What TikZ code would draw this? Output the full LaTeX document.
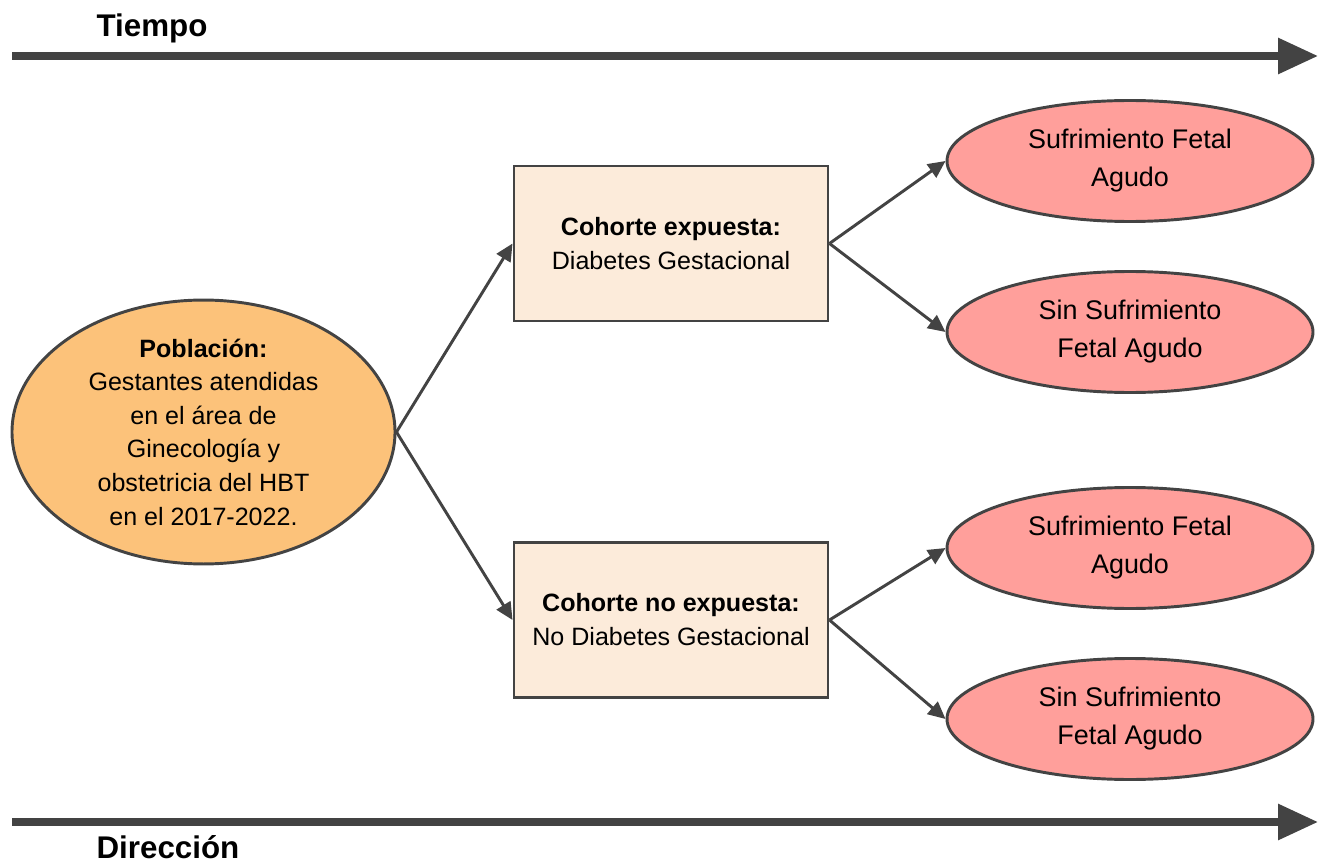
\documentclass[tikz,border=0pt]{standalone}
\usepackage{fontspec}
\setmainfont{Liberation Sans}
\usetikzlibrary{shapes.geometric,arrows.meta}
\definecolor{strokec}{HTML}{434343}
\definecolor{popfill}{HTML}{FCC27A}
\definecolor{boxfill}{HTML}{FCEBDA}
\definecolor{outfill}{HTML}{FF9F9B}
\tikzset{
  popnode/.style={ellipse, draw=strokec, line width=2.2pt, fill=popfill, inner sep=0pt,
    minimum width=287.25pt, minimum height=178.5pt, align=center,
    font=\fontsize{18.8}{25.2}\selectfont},
  cohort/.style={rectangle, draw=strokec, line width=2.2pt, fill=boxfill, inner sep=0pt,
    minimum width=235.5pt, minimum height=116.25pt, align=center,
    font=\fontsize{18.8}{25.5}\selectfont},
  outcome/.style={ellipse, draw=strokec, line width=2.2pt, fill=outfill, inner sep=0pt,
    minimum width=274.5pt, minimum height=90.75pt, align=center,
    font=\fontsize{20.2}{28.5}\selectfont},
  conn/.style={draw=strokec, line width=2.2pt, -{Triangle[length=13pt,width=12pt]}},
  timearrow/.style={draw=strokec, line width=5.4pt, -{Triangle[length=30pt,width=26pt]}},
  timelabel/.style={font=\fontsize{23.5}{28}\selectfont\bfseries, inner sep=0pt}
}
\begin{document}
\begin{tikzpicture}[x=0.75pt,y=-0.75pt]
\useasboundingbox (0,0) rectangle (1321,863);
% time arrows
\coordinate (t0) at (12,56);
\coordinate (t1) at (1318,56);
\coordinate (d0) at (12,822);
\coordinate (d1) at (1318,822);
\draw[timearrow] (t0) -- (t1);
\draw[timearrow] (d0) -- (d1);
\node[timelabel] (tiempo) at (152,28) {Tiempo};
\node[timelabel] (direccion) at (168,847) {Dirección};
% nodes
\node[popnode] (pop) at (203.5,432) {\textbf{Población:}\\Gestantes atendidas\\en el área de\\Ginecología y\\obstetricia del HBT\\en el 2017-2022.};
\node[cohort] (exp) at (671,243.5) {\textbf{Cohorte expuesta:}\\Diabetes Gestacional};
\node[cohort] (noexp) at (671,620) {\textbf{Cohorte no expuesta:}\\No Diabetes Gestacional};
\node[outcome] (o1) at (1130,161) {Sufrimiento Fetal\\Agudo};
\node[outcome] (o2) at (1130,332) {Sin Sufrimiento\\Fetal Agudo};
\node[outcome] (o3) at (1130,548) {Sufrimiento Fetal\\Agudo};
\node[outcome] (o4) at (1130,719) {Sin Sufrimiento\\Fetal Agudo};
% connectors
\draw[conn] (pop.east) -- (exp.west);
\draw[conn] (pop.east) -- (noexp.west);
\draw[conn] (exp.east) -- (o1.west);
\draw[conn] (exp.east) -- (o2.west);
\draw[conn] (noexp.east) -- (o3.west);
\draw[conn] (noexp.east) -- (o4.west);
\end{tikzpicture}
\end{document}
